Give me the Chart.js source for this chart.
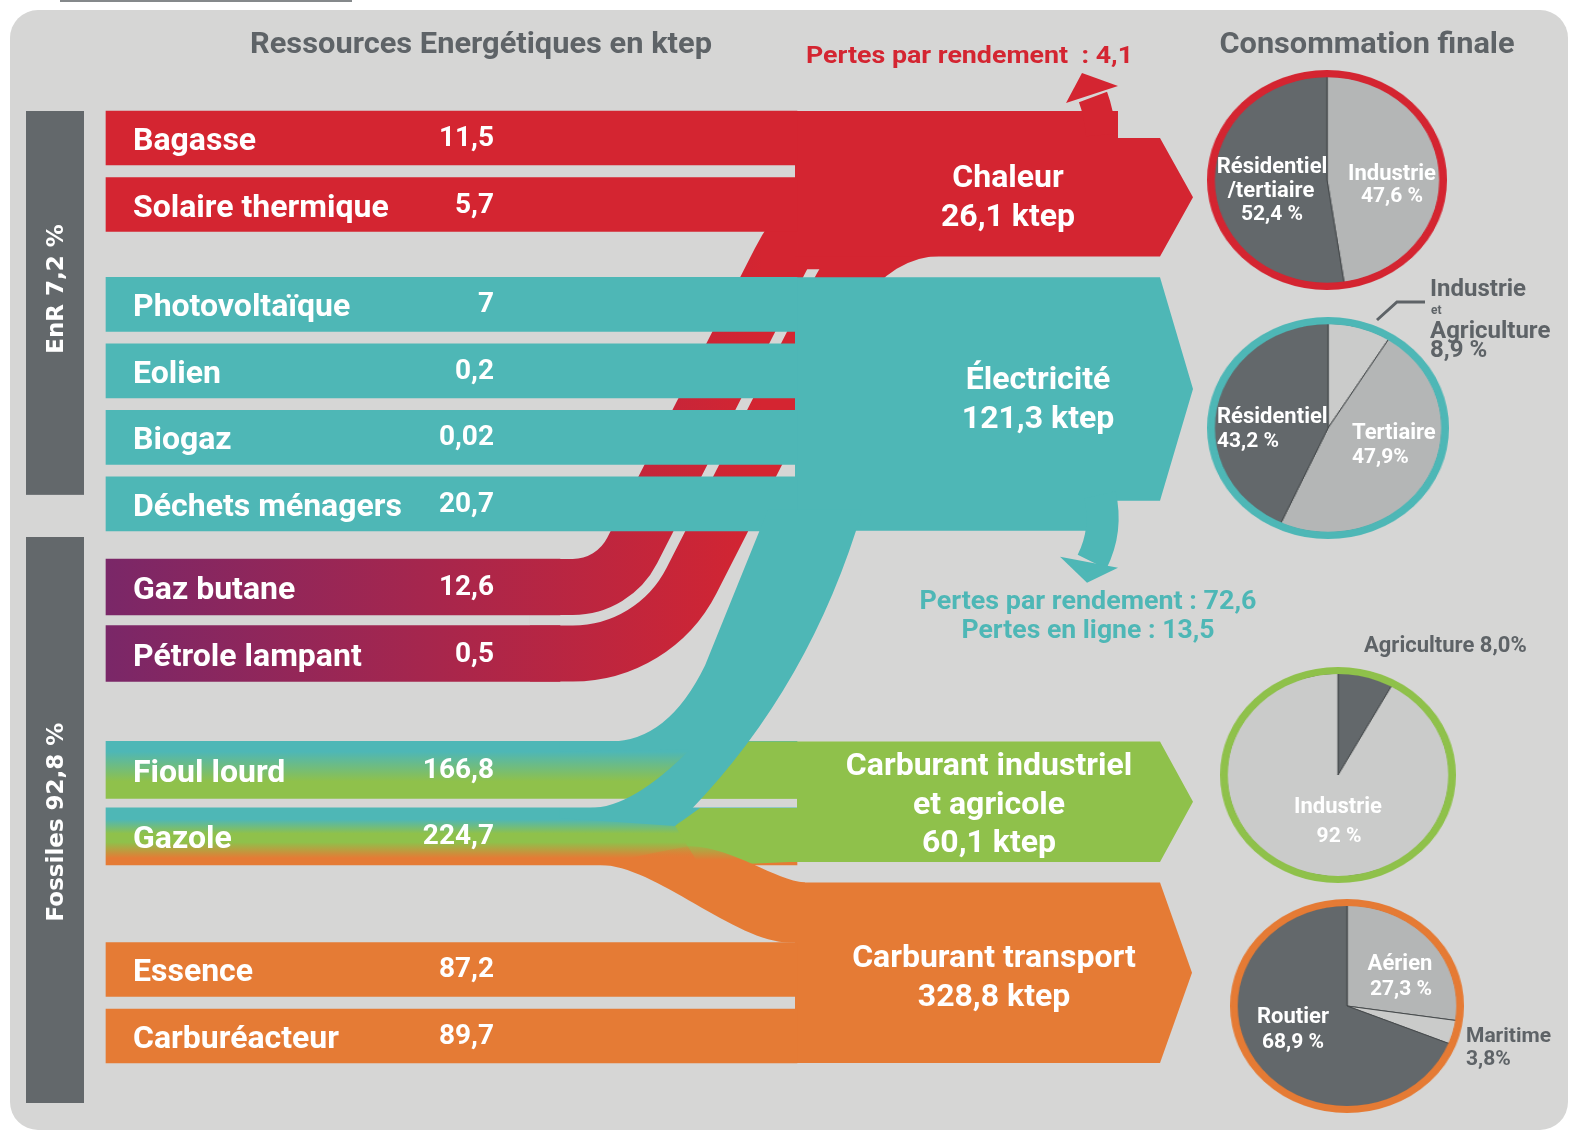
<!DOCTYPE html>
<html lang="fr">
<head>
<meta charset="utf-8">
<title>Ressources énergétiques et consommation finale</title>
<script src="https://cdn.jsdelivr.net/npm/chart.js@4.4.1/dist/chart.umd.min.js"></script>
<style>
    html, body { margin: 0; padding: 0; background: #ffffff; }
    #page { position: relative; width: 1570px; height: 1132px; overflow: hidden; }
    #tab { position: absolute; left: 60px; top: 0; width: 292px; height: 2px; background: #85898b; }
    #panel { position: absolute; left: 10px; top: 10px; width: 1558px; height: 1120px; background: #d6d6d5; border-radius: 28px; }
    .pie { position: absolute; z-index: 1; }
    #flows { position: absolute; left: 0; top: 0; z-index: 2; }
</style>
</head>
<body>
<div id="page">
    <div id="tab"></div>
    <div id="panel"></div>
    <canvas id="pie-heat" class="pie"></canvas>
    <canvas id="pie-elec" class="pie"></canvas>
    <canvas id="pie-fuel" class="pie"></canvas>
    <canvas id="pie-transport" class="pie"></canvas>
    <canvas id="flows" width="1570" height="1132"></canvas>
</div>
<script>
(function () {
    "use strict";

    // Data (ktep)
    const sources = ["Bagasse", "Solaire thermique", "Photovoltaïque", "Eolien", "Biogaz", "Déchets ménagers",
        "Gaz butane", "Pétrole lampant", "Fioul lourd", "Gazole", "Essence", "Carburéacteur"];
    const sourceValues = [11.5, 5.7, 7, 0.2, 0.02, 20.7, 12.6, 0.5, 166.8, 224.7, 87.2, 89.7];
    const groups = ["EnR", "Fossiles"];
    const groupShares = [7.2, 92.8];
    const uses = ["Chaleur", "Électricité", "Carburant industriel et agricole", "Carburant transport"];
    const useValues = [26.1, 121.3, 60.1, 328.8];
    const heatLoss = 4.1;
    const elecLoss = 72.6;
    const elecLineLoss = 13.5;

    const heatSectors = ["Industrie", "Résidentiel /tertiaire"];
    const heatShares = [47.6, 52.4];
    const elecSectors = ["Industrie et Agriculture", "Tertiaire", "Résidentiel"];
    const elecShares = [8.9, 47.9, 43.2];
    const fuelSectors = ["Agriculture", "Industrie"];
    const fuelShares = [8.0, 92];
    const transportSectors = ["Aérien", "Maritime", "Routier"];
    const transportShares = [27.3, 3.8, 68.9];

    // Layout
    const rowSlot = [0, 4, 10, 14, 18, 22, 27, 31, 38, 42, 50, 54];
    const bend = 0.657;

    const C = {
        panel: "#d6d6d5", dark: "#63686b", title: "#5e6367",
        red: "#d42531", teal: "#4eb7b6", green: "#8fc14b", orange: "#e57b35", purple: "#7a2768",
        light: "#b4b6b6", pale: "#cacbca", rule: "#45494b"
    };
    const FONT = "Roboto, 'Noto Sans', 'Liberation Sans', sans-serif";
    const SANS = "'DejaVu Sans', Verdana, sans-serif";

    const fmt = (v, d) => v.toLocaleString("fr-FR", { minimumFractionDigits: d || 0, maximumFractionDigits: 2 });
    const pct = (v, d, sp) => fmt(v, d) + (sp ? " %" : "%");

    function hGrad(chart) {
        const x = chart.scales.x;
        const g = chart.ctx.createLinearGradient(x.getPixelForValue(0), 0, x.getPixelForValue(0.95), 0);
        g.addColorStop(0, C.purple);
        g.addColorStop(1, C.red);
        return g;
    }

    function vGrad(ctx, stops) {
        const chart = ctx.chart;
        if (!chart.chartArea || !ctx.raw) return stops[0][1];
        const y = chart.scales.y.getPixelForValue(ctx.raw.y);
        const h = ctx.dataset.barThickness;
        const g = chart.ctx.createLinearGradient(0, y - h / 2, 0, y + h / 2);
        stops.forEach(([o, c]) => g.addColorStop(o, c));
        return g;
    }

    const bands = [
        { rows: [0, 1], end: 1, thick: 54, color: () => C.red },
        { rows: [2, 3, 4, 5], end: 1, thick: 54, color: () => C.teal },
        { rows: [6, 7], end: bend, thick: 56, color: (c) => (c.chart.chartArea ? hGrad(c.chart) : C.purple) },
        { rows: [8], end: 1, thick: 57, color: (c) => vGrad(c, [[0, C.teal], [0.18, C.teal], [0.7, C.green], [1, C.green]]) },
        { rows: [9], end: 1, thick: 57, color: (c) => vGrad(c, [[0, C.teal], [0.2, C.teal], [0.45, C.green], [0.6, C.green], [0.88, C.orange], [1, C.orange]]) },
        { rows: [10, 11], end: 1, thick: 54, color: () => C.orange }
    ];
    const thickOf = [];
    bands.forEach((b) => b.rows.forEach((i) => { thickOf[i] = b.thick; }));

    function geo(chart) {
        const X = (v) => chart.scales.x.getPixelForValue(v);
        const Y = (s) => chart.scales.y.getPixelForValue(s);
        return {
            X,
            mid: (i) => Y(rowSlot[i]),
            top: (i) => Y(rowSlot[i]) - thickOf[i] / 2,
            bot: (i) => Y(rowSlot[i]) + thickOf[i] / 2,
            x0: X(0), jx: X(1), bx: X(bend)
        };
    }

    function txt(ctx, s, x, y, o) {
        ctx.save();
        ctx.font = `${o.weight || "bold"} ${o.size}px ${o.family || FONT}`;
        ctx.fillStyle = o.color || "#ffffff";
        ctx.textBaseline = o.base || "alphabetic";
        const m = ctx.measureText(s).width;
        const k = o.w ? o.w / m : 1;
        const a = o.align || "left";
        ctx.translate(x, y);
        if (o.rot) ctx.rotate(o.rot);
        ctx.scale(k, 1);
        ctx.fillText(s, a === "center" ? -m / 2 : a === "right" ? -m : 0, 0);
        ctx.restore();
    }

    function lossArrow(ctx, color, width, a, c, b, head) {
        ctx.strokeStyle = color;
        ctx.lineWidth = width;
        ctx.lineCap = "butt";
        ctx.beginPath();
        ctx.moveTo(a[0], a[1]);
        ctx.quadraticCurveTo(c[0], c[1], b[0], b[1]);
        ctx.stroke();
        ctx.fillStyle = color;
        ctx.beginPath();
        ctx.moveTo(head[0][0], head[0][1]);
        ctx.lineTo(head[1][0], head[1][1]);
        ctx.lineTo(head[2][0], head[2][1]);
        ctx.closePath();
        ctx.fill();
    }

    // Flows and target arrows behind the source bars
    function drawBack(chart) {
        const ctx = chart.ctx;
        const { top, bot, jx, bx } = geo(chart);
        ctx.save();

        // gaz butane + pétrole lampant bending up into Chaleur
        const yc = (top(6) + bot(7)) / 2;
        const slope = 0.51;
        const c1x = bx + 74;
        const yh = bot(1) - 37;
        const c2x = c1x + slope * (yc - yh);
        const ribbon = new Path2D();
        ribbon.moveTo(bx - 30, yc);
        ribbon.arcTo(c1x, yc, c2x, yh, 100);
        ribbon.arcTo(c2x, yh, c2x + 300, yh, 150);
        ribbon.lineTo(c2x + 160, yh);
        ctx.lineWidth = bot(7) - top(6);
        ctx.strokeStyle = hGrad(chart);
        ctx.stroke(ribbon);
        ctx.save();
        ctx.beginPath();
        ctx.rect(0, top(2) - 8, chart.width, chart.height);
        ctx.clip();
        ctx.lineWidth = top(7) - bot(6);
        ctx.strokeStyle = C.panel;
        ctx.stroke(ribbon);
        ctx.restore();

        // Chaleur
        const ht = top(0), hn = ht + 27, hb = bot(1) + 25, hm = (hn + hb) / 2;
        ctx.fillStyle = C.red;
        ctx.fill(new Path2D(`M${jx - 2} ${ht} H${jx + 321} V${hn} H${jx + 363} L${jx + 396} ${hm} L${jx + 363} ${hb} H${jx - 2} Z`));
        lossArrow(ctx, C.red, 30, [jx + 304, ht + 24], [jx + 302, ht + 2], [jx + 296, ht - 14],
            [[jx + 285, ht - 38], [jx + 269, ht - 8], [jx + 321, ht - 25]]);

        // Électricité
        const et = top(2), eb = bot(5), en = eb - 30, em = (et + en) / 2;
        ctx.fillStyle = C.teal;
        ctx.fill(new Path2D(`M${jx - 2} ${et} H${jx + 363} L${jx + 396} ${em} L${jx + 363} ${en} H${jx + 303} V${eb} H${jx - 2} Z`));
        lossArrow(ctx, C.teal, 32, [jx + 303, en - 6], [jx + 311, eb - 1], [jx + 295, eb + 31],
            [[jx + 290, eb + 52], [jx + 263, eb + 26], [jx + 321, eb + 37]]);

        // Carburant transport
        const ot = top(10) - 60, ob = bot(11), om = (ot + ob) / 2;
        ctx.fillStyle = C.orange;
        ctx.fill(new Path2D(`M${jx - 2} ${ot} H${jx + 363} L${jx + 395} ${om} L${jx + 363} ${ob} H${jx - 2} Z`));

        ctx.restore();
    }

    // Flows drawn over the source bars, then every label
    function drawFront(chart) {
        const ctx = chart.ctx;
        const { top, bot, mid, x0, jx, bx } = geo(chart);
        ctx.save();

        const ft = top(8), fb = bot(8), gt = top(9), gb = bot(9), eb = bot(5), st = top(10);

        // Carburant industriel et agricole
        const gm = (ft + gb - 3) / 2;
        ctx.fillStyle = C.green;
        ctx.fill(new Path2D(`M${jx - 97} ${ft} H${jx + 363} L${jx + 396} ${gm} L${jx + 363} ${gb - 3} H${jx - 7} L${jx - 97} ${gb + 1} L${jx - 122} ${gt + 18} L${jx - 97} ${gt} H${jx} V${fb} H${jx - 97} Z`));

        // gazole towards transport
        const og = ctx.createLinearGradient(0, gt + 35, 0, gt + 52);
        og.addColorStop(0, "rgba(229,123,53,0)");
        og.addColorStop(1, C.orange);
        ctx.fillStyle = og;
        const ot = st - 60;
        ctx.fill(new Path2D(`M${bx + 40} ${gb} C${bx + 95} ${gb} ${jx - 62} ${st} ${jx - 7} ${st} H${jx + 8} V${ot} C${jx - 22} ${ot - 2} ${jx - 62} ${gt + 40} ${jx - 107} ${gt + 38} Q${bx + 90} ${gt + 45} ${bx + 40} ${gb} Z`));

        // fioul lourd + gazole rising to Électricité
        ctx.fillStyle = C.teal;
        ctx.fill(new Path2D(`M${bx} ${ft} H${bx + 50} Q${bx + 108} ${ft} ${jx - 92} ${ft - 76} L${jx - 29} ${eb - 21} H${jx + 65} L${jx + 59} ${eb} Q${jx + 3} ${eb + 173} ${jx - 122} ${gt + 18} L${bx} ${gt + 10} V${gt} H${bx + 30} Q${bx + 72} ${gt} ${jx - 107} ${ft + 8} L${bx} ${ft + 10} Z`));

        // group bars
        const enrTop = top(0), enrBot = bot(5) - 36, fosTop = top(6) - 22, fosBot = bot(11) + 40;
        ctx.fillStyle = C.dark;
        ctx.fillRect(x0 - 80, enrTop, 58, enrBot - enrTop);
        ctx.fillRect(x0 - 80, fosTop, 58, fosBot - fosTop);
        txt(ctx, `${groups[0]} ${fmt(groupShares[0])} %`, x0 - 49, (enrTop + enrBot) / 2 - 14,
            { size: 23, family: SANS, align: "center", base: "middle", rot: -Math.PI / 2 });
        txt(ctx, `${groups[1]} ${fmt(groupShares[1])} %`, x0 - 49, (fosTop + fosBot) / 2 + 2,
            { size: 23, family: SANS, align: "center", base: "middle", rot: -Math.PI / 2 });

        // source names and values
        sources.forEach((name, i) => {
            txt(ctx, name, x0 + 27, mid(i) + 12, { size: 32 });
            txt(ctx, fmt(sourceValues[i]), x0 + 388, mid(i) + 8, { size: 28, align: "right" });
        });

        // headings
        txt(ctx, "Ressources Energétiques en ktep", 481, 53, { size: 30, color: C.title, align: "center", w: 462 });
        txt(ctx, "Consommation finale", 1367, 53, { size: 30, color: C.title, align: "center", w: 295 });
        txt(ctx, `Pertes par rendement  : ${fmt(heatLoss)}`, 806, 63, { size: 24, color: C.red, w: 327 });
        txt(ctx, `Pertes par rendement : ${fmt(elecLoss)}`, 1088, 609, { size: 25, color: C.teal, align: "center", w: 337 });
        txt(ctx, `Pertes en ligne : ${fmt(elecLineLoss)}`, 1088, 638, { size: 25, color: C.teal, align: "center", w: 253 });

        // target names
        const useAnchor = [[1008, 187], [1038, 389], [989, 775], [994, 967]];
        uses.forEach((u, i) => {
            const lines = u.replace(" et ", "\net ").split("\n").concat(`${fmt(useValues[i])} ktep`);
            lines.forEach((l, k) => txt(ctx, l, useAnchor[i][0], useAnchor[i][1] + k * 38.5, { size: 32, align: "center" }));
        });

        // pie labels
        const W = "#ffffff", G = C.title;
        const heatLines = heatSectors[1].split(" ");
        const elecLines = elecSectors[0].split(" ");
        const labels = [
            [heatLines[0], 1272, 173, "center", W, 22], [heatLines[1], 1271, 197, "center", W, 22],
            [pct(heatShares[1], 1, true), 1272, 220, "center", W, 21],
            [heatSectors[0], 1392, 180, "center", W, 22], [pct(heatShares[0], 1, true), 1392, 202, "center", W, 21],
            [elecLines[0], 1430, 296, "left", G, 24], [elecLines[1], 1431, 314, "left", G, 12],
            [elecLines[2], 1430, 338, "left", G, 24], [pct(elecShares[0], 1, true), 1430, 357, "left", G, 24],
            [elecSectors[2], 1217, 423, "left", W, 22], [pct(elecShares[2], 1, true), 1217, 447, "left", W, 21],
            [elecSectors[1], 1352, 439, "left", W, 22], [pct(elecShares[1], 1, false), 1352, 463, "left", W, 21],
            [`${fuelSectors[0]} ${pct(fuelShares[0], 1, false)}`, 1364, 652, "left", G, 22],
            [fuelSectors[1], 1338, 813, "center", W, 22], [pct(fuelShares[1], 0, true), 1339, 842, "center", W, 21],
            [transportSectors[0], 1400, 970, "center", W, 22], [pct(transportShares[0], 1, true), 1401, 995, "center", W, 21],
            [transportSectors[2], 1293, 1023, "center", W, 22], [pct(transportShares[2], 1, true), 1293, 1048, "center", W, 21],
            [transportSectors[1], 1466, 1042, "left", G, 21], [pct(transportShares[1], 1, false), 1466, 1065, "left", G, 21]
        ];
        labels.forEach(([s, x, y, align, color, size]) => txt(ctx, s, x, y, { size, align, color }));

        // leader for the small electricity slice
        ctx.strokeStyle = C.title;
        ctx.lineWidth = 3;
        ctx.beginPath();
        ctx.moveTo(1377, 320);
        ctx.lineTo(1397, 302);
        ctx.lineTo(1425, 302);
        ctx.stroke();

        ctx.restore();
    }

    const flowPlugin = {
        id: "flows",
        beforeDatasetsDraw(chart) { drawBack(chart); },
        afterDatasetsDraw(chart) { drawFront(chart); }
    };

    new Chart(document.getElementById("flows"), {
        type: "bar",
        data: {
            datasets: bands.map((b) => ({
                data: b.rows.map((i) => ({ x: [0, b.end], y: rowSlot[i], name: sources[i], v: sourceValues[i] })),
                backgroundColor: b.color,
                barThickness: b.thick,
                borderWidth: 0,
                grouped: false,
                clip: false
            }))
        },
        options: {
            indexAxis: "y",
            responsive: false,
            animation: false,
            events: [],
            layout: { padding: { left: 106, right: 773, top: 138, bottom: 96 } },
            scales: {
                x: { type: "linear", min: 0, max: 1, offset: false, display: false },
                y: { type: "linear", min: 0, max: 54, reverse: true, offset: false, display: false }
            },
            plugins: { legend: { display: false }, tooltip: { enabled: false } }
        },
        plugins: [flowPlugin]
    });

    // Final consumption pies
    const pies = [
        { id: "pie-heat", cx: 1327, cy: 180, rx: 120, ry: 110, ring: C.red, names: heatSectors, shares: heatShares, colors: [C.light, C.dark] },
        { id: "pie-elec", cx: 1328, cy: 428, rx: 121, ry: 111, ring: C.teal, names: elecSectors, shares: elecShares, colors: [C.pale, C.light, C.dark] },
        { id: "pie-fuel", cx: 1338, cy: 775, rx: 118, ry: 108, ring: C.green, names: fuelSectors, shares: fuelShares, colors: [C.dark, C.pale] },
        { id: "pie-transport", cx: 1347, cy: 1006, rx: 117, ry: 107, ring: C.orange, names: transportSectors, shares: transportShares, colors: [C.light, C.pale, C.dark] }
    ];
    pies.forEach((p) => {
        const cv = document.getElementById(p.id);
        cv.width = 2 * p.ry;
        cv.height = 2 * p.ry;
        cv.style.left = (p.cx - p.ry) + "px";
        cv.style.top = (p.cy - p.ry) + "px";
        cv.style.transform = `scaleX(${p.rx / p.ry})`;
        new Chart(cv, {
            type: "pie",
            data: {
                labels: p.names,
                datasets: [
                    { data: [1], backgroundColor: p.ring, borderColor: p.ring, borderWidth: 2, weight: 5 },
                    { data: p.shares, backgroundColor: p.colors, borderColor: C.rule, borderWidth: 1, weight: 100 }
                ]
            },
            options: {
                responsive: false,
                animation: false,
                events: [],
                plugins: { legend: { display: false }, tooltip: { enabled: false } }
            }
        });
    });
})();
</script>
</body>
</html>
